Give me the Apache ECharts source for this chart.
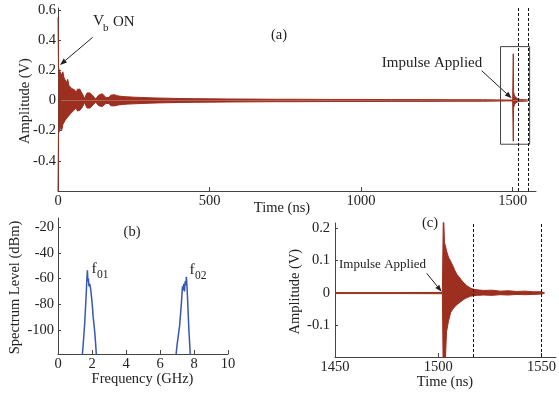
<!DOCTYPE html>
<html><head><meta charset="utf-8">
<script src="https://cdn.jsdelivr.net/npm/echarts@6/dist/echarts.min.js"></script>
<style>html,body{margin:0;padding:0;background:#fff}#c{width:559px;height:396px}</style>
</head><body><div id="c"></div>
<script>
// ---------- (a) full record: envelope of the oscillation ----------
const timeA = [0, 1.5, 4, 8, 12, 16, 20, 24, 28, 32, 36, 40, 45, 50, 55, 60, 64, 68, 72, 76, 80, 84, 88, 92, 96, 100, 106, 112, 118, 124, 129, 134, 140, 146, 152, 158, 163, 168, 174, 180, 186, 192, 198, 204, 215, 230, 250, 275, 300, 330, 360, 400, 450, 500, 560, 640, 720, 800, 900, 1000, 1100, 1200, 1300, 1400, 1450, 1480, 1500, 1501, 1502, 1503, 1505, 1508, 1512, 1517, 1525, 1535, 1550, 1551];
const upperA = [0.55, 0.22, 0.2, 0.21, 0.17, 0.19, 0.15, 0.16, 0.12, 0.14, 0.1, 0.11, 0.08, 0.09, 0.07, 0.05, 0.075, 0.07, 0.075, 0.06, 0.05, 0.03, 0.012, 0.035, 0.05, 0.055, 0.05, 0.04, 0.025, 0.01, 0.015, 0.035, 0.045, 0.045, 0.035, 0.02, 0.012, 0.02, 0.035, 0.04, 0.038, 0.032, 0.03, 0.028, 0.026, 0.024, 0.022, 0.02, 0.018, 0.016, 0.015, 0.013, 0.012, 0.011, 0.01, 0.009, 0.008, 0.008, 0.007, 0.007, 0.006, 0.006, 0.005, 0.005, 0.004, 0.003, 0.003, 0.003, 0.31, 0.06, 0.04, 0.025, 0.015, 0.01, 0.007, 0.005, 0.004, 0];
const lowerA = [-0.6, -0.22, -0.21, -0.18, -0.2, -0.16, -0.17, -0.13, -0.14, -0.11, -0.12, -0.09, -0.1, -0.07, -0.075, -0.05, -0.07, -0.075, -0.065, -0.06, -0.045, -0.03, -0.012, -0.035, -0.05, -0.05, -0.05, -0.04, -0.025, -0.01, -0.015, -0.035, -0.045, -0.04, -0.035, -0.02, -0.012, -0.02, -0.035, -0.04, -0.036, -0.032, -0.03, -0.028, -0.026, -0.024, -0.022, -0.02, -0.018, -0.016, -0.015, -0.013, -0.012, -0.011, -0.01, -0.009, -0.008, -0.008, -0.007, -0.007, -0.006, -0.006, -0.005, -0.005, -0.004, -0.003, -0.003, -0.003, -0.27, -0.05, -0.035, -0.02, -0.012, -0.008, -0.006, -0.005, -0.004, 0];
const ticksTimeA = [0, 500, 1000, 1500];
const ticksAmpA = [-0.4, -0.2, 0, 0.2, 0.4, 0.6];
const markerTimes = [1517, 1550];
const zoomBoxTime = [1460, 1556];
const zoomBoxAmp = [0.357, -0.29];

// ---------- (b) spectrum ----------
const freq1 = [1.40, 1.5, 1.57, 1.63, 1.67, 1.70, 1.73, 1.76, 1.79, 1.82, 1.87, 1.92, 1.97, 2.02, 2.07, 2.12, 2.17, 2.22, 2.28];
const level1 = [-125, -108, -95, -80, -69, -60, -53.5, -62, -60, -66, -64, -68, -74, -81, -90, -96, -103, -112, -125];
const freq2 = [6.9, 7.0, 7.08, 7.15, 7.22, 7.28, 7.32, 7.36, 7.40, 7.44, 7.48, 7.52, 7.55, 7.58, 7.62, 7.66, 7.70, 7.75, 7.80];
const level2 = [-125, -112, -104, -97, -86, -75, -66, -69, -64, -70, -62, -65, -58.5, -64, -75, -88, -100, -112, -125];
const ticksFreq = [0, 2, 4, 6, 8, 10];
const ticksLevel = [-100, -80, -60, -40, -20];

// ---------- (c) zoom on the impulse ----------
const timeC = [1450, 1480, 1502, 1502.5, 1503, 1503.5, 1504, 1505, 1506, 1507, 1508, 1509, 1510, 1511, 1512, 1513, 1514, 1515.5, 1517, 1519, 1522, 1526, 1530, 1534, 1538, 1542, 1546, 1550, 1551.5];
const upperC = [0.0015, 0.0015, 0.002, 0.26, 0.155, 0.145, 0.13, 0.11, 0.098, 0.085, 0.07, 0.058, 0.05, 0.042, 0.034, 0.028, 0.022, 0.016, 0.012, 0.01, 0.008, 0.009, 0.006, 0.007, 0.005, 0.006, 0.004, 0.004, 0];
const lowerC = [-0.0015, -0.0015, -0.002, -0.3, -0.3, -0.2, -0.12, -0.085, -0.06, -0.05, -0.042, -0.036, -0.031, -0.026, -0.021, -0.017, -0.014, -0.01, -0.008, -0.007, -0.006, -0.007, -0.005, -0.006, -0.004, -0.005, -0.004, -0.003, 0];
const ticksTimeC = [1450, 1500, 1550];
const ticksAmpC = [-0.1, 0, 0.1, 0.2];

const RED = '#9c2f1f';
const BLUE = '#3857b3';
const F = "'Liberation Serif','Times New Roman',serif";
const AX = '#444';
const TX = '#222';

const pairs = (xs, ys) => xs.map((x, i) => [x, ys[i]]);
const plain = v => String(v);

function xAx(gi, min, max, ticks) {
  return {type: 'value', gridIndex: gi, min, max,
    axisLine: {show: true, onZero: false, lineStyle: {color: AX, width: 1}},
    axisTick: {show: true, inside: true, length: 4, customValues: ticks, lineStyle: {color: AX}},
    axisLabel: {customValues: ticks, formatter: plain, margin: 3, color: TX, fontFamily: F, fontSize: 14.5},
    splitLine: {show: false}};
}
function yAx(gi, min, max, ticks, margin) {
  return {type: 'value', gridIndex: gi, min, max,
    axisLine: {show: true, onZero: false, lineStyle: {color: AX, width: 1}},
    axisTick: {show: true, inside: true, length: 3, customValues: ticks, lineStyle: {color: AX}},
    axisLabel: {customValues: ticks, formatter: plain, margin, color: TX, fontFamily: F, fontSize: 14.5},
    splitLine: {show: false}};
}
function band(xi, data, extra) {
  return Object.assign({type: 'line', xAxisIndex: xi, yAxisIndex: xi, data,
    showSymbol: false, symbol: 'none', sampling: 'none', silent: true,
    lineStyle: {color: RED, width: 1}, areaStyle: {color: RED, opacity: 1}}, extra || {});
}
const dashed = {symbol: ['none', 'none'], silent: true, label: {show: false},
  lineStyle: {color: '#111', type: [3, 2], width: 1},
  data: markerTimes.map(t => ({xAxis: t}))};

function txt(x, y, s, size, align, rot) {
  return {type: 'text', x, y, rotation: rot || 0, silent: true,
    style: {text: s, x: 0, y: 0, font: size + 'px ' + F, fill: TX,
      align: align || 'center', verticalAlign: 'middle', textAlign: align || 'center', textVerticalAlign: 'middle'}};
}
function arrow(x1, y1, x2, y2) {
  const a = Math.atan2(y2 - y1, x2 - x1), L = 7, W = 2.6;
  const bx = x2 - L * Math.cos(a), by = y2 - L * Math.sin(a);
  const px = -Math.sin(a) * W, py = Math.cos(a) * W;
  return [
    {type: 'line', silent: true, shape: {x1, y1, x2: bx, y2: by}, style: {stroke: '#222', lineWidth: 1}},
    {type: 'polygon', silent: true, shape: {points: [[x2, y2], [bx + px, by + py], [bx - px, by - py]]}, style: {fill: '#222'}}
  ];
}

const chart = echarts.init(document.getElementById('c'));
chart.setOption({
  animation: false,
  backgroundColor: '#fff',
  grid: [
    {left: 58, top: 8, width: 478, height: 183},
    {left: 58, top: 218, width: 170, height: 136},
    {left: 335, top: 223, width: 221, height: 134}
  ],
  xAxis: [xAx(0, 0, 1577, ticksTimeA), xAx(1, 0, 10, ticksFreq), xAx(2, 1450, 1557, ticksTimeC)],
  yAxis: [yAx(0, -0.6, 0.613, ticksAmpA, 2), yAx(1, -118.7, -12.8, ticksLevel, 4), yAx(2, -0.197, 0.216, ticksAmpC, 5)],
  series: [
    band(0, pairs(timeA, upperA), {
      markLine: dashed,
      markArea: {silent: true, itemStyle: {color: 'rgba(0,0,0,0)', borderColor: '#444', borderWidth: 1},
        data: [[{xAxis: zoomBoxTime[0], yAxis: zoomBoxAmp[0]}, {xAxis: zoomBoxTime[1], yAxis: zoomBoxAmp[1]}]]}
    }),
    band(0, pairs(timeA, lowerA)),
    {type: 'line', xAxisIndex: 1, yAxisIndex: 1, data: pairs(freq1, level1), showSymbol: false, symbol: 'none', silent: true, lineStyle: {color: BLUE, width: 1.5}},
    {type: 'line', xAxisIndex: 1, yAxisIndex: 1, data: pairs(freq2, level2), showSymbol: false, symbol: 'none', silent: true, lineStyle: {color: BLUE, width: 1.5}},
    band(2, pairs(timeC, upperC), {markLine: dashed}),
    band(2, pairs(timeC, lowerC))
  ],
  graphic: [
    txt(279, 35, '(a)', 14.5),
    txt(93, 21, 'V', 15.5, 'left'),
    txt(103, 28, 'b', 11, 'left'),
    txt(113, 22, 'ON', 15, 'left'),
    txt(432, 63, 'Impulse Applied', 15),
    txt(132, 232, '(b)', 14.5),
    txt(91.5, 269, 'f', 15.5, 'left'),
    txt(97, 275, '01', 11.5, 'left'),
    txt(189.5, 270, 'f', 15.5, 'left'),
    txt(195, 276, '02', 11.5, 'left'),
    txt(430, 223, '(c)', 14.5),
    txt(382.5, 265, 'Impulse Applied', 13),
    txt(25.5, 101, 'Amplitude (V)', 14.5, 'center', Math.PI / 2),
    txt(282, 208, 'Time (ns)', 14.5),
    txt(15, 287.5, 'Spectrum Level (dBm)', 14.5, 'center', Math.PI / 2),
    txt(142.5, 379, 'Frequency (GHz)', 14.5),
    txt(295, 291.7, 'Amplitude (V)', 14.5, 'center', Math.PI / 2),
    txt(445, 382, 'Time (ns)', 14.5)
  ].concat(arrow(92.7, 37.3, 60, 65), arrow(481.7, 70.7, 511.7, 98.3), arrow(426.7, 273.3, 441.7, 291.7))
});
</script>
</body></html>
